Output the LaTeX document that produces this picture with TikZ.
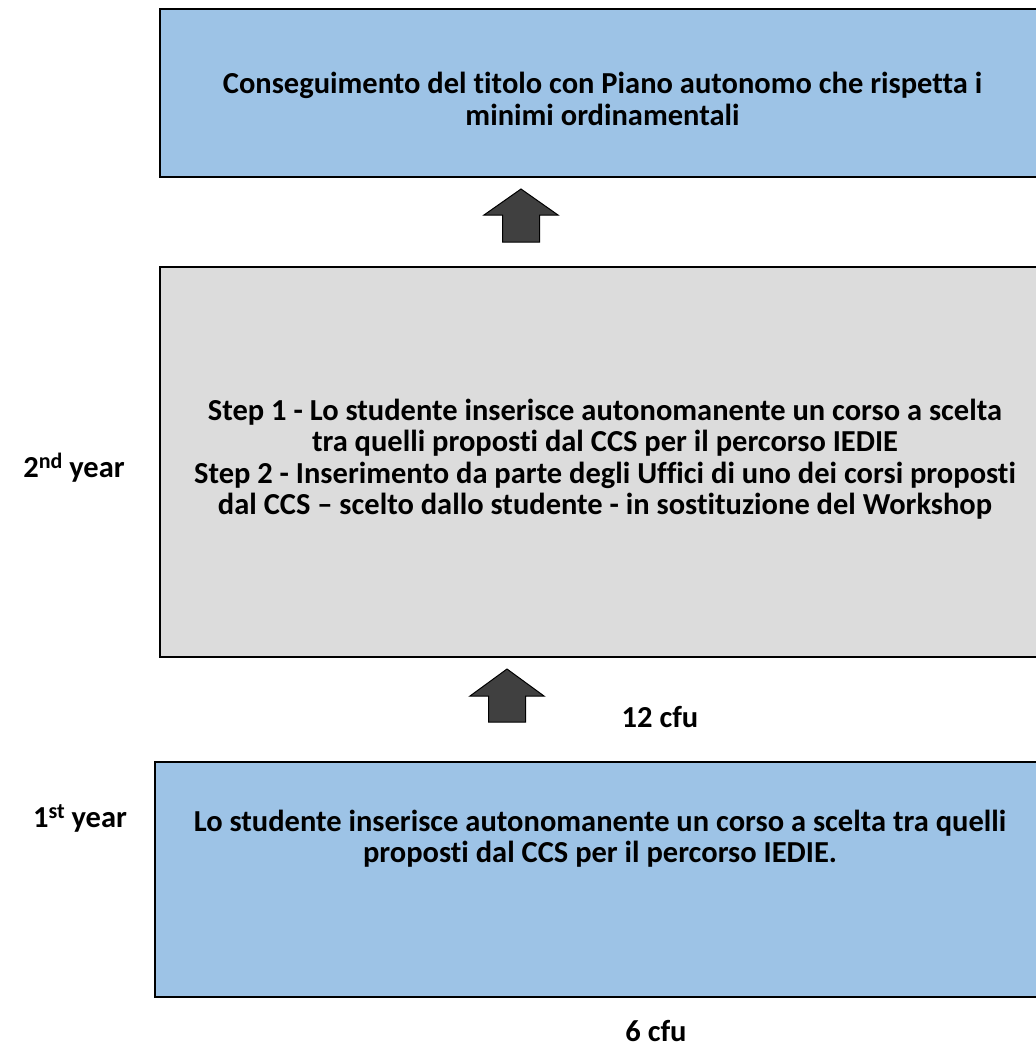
\documentclass[tikz,border=0pt]{standalone}
\usepackage{fontspec}
\setmainfont{Carlito}[Ligatures={NoCommon}]
\usepackage{tikz}
\usetikzlibrary{positioning}

\definecolor{boxblue}{HTML}{9DC3E6}
\definecolor{boxgrey}{HTML}{DCDCDC}
\definecolor{arrowgrey}{HTML}{404040}

\newcommand{\apice}[1]{\raisebox{9pt}{\fontsize{22}{22}\selectfont #1}}

\tikzset{
  every node/.style={font=\fontsize{30.5}{31.5}\selectfont\bfseries},
  bluebox/.style={draw=black, line width=1.5pt, fill=boxblue, rectangle},
  greybox/.style={draw=black, line width=1.5pt, fill=boxgrey, rectangle},
  boxtext/.style={align=center},
  blockarrow/.style={draw=black, line width=1pt, fill=arrowgrey, line join=miter}
}

\begin{document}
\begin{tikzpicture}[x=1pt,y=-1pt]
      \clip (0,0) rectangle (1036,1058);
      \fill[white] (0,0) rectangle (1036,1058);

      % boxes
      \node[bluebox, minimum width=885pt, minimum height=168pt] (titolo) at (602.5,93) {};
      \node[boxtext] (testo3) at ([yshift=-6pt]titolo.center)
        {Conseguimento del titolo con Piano autonomo che rispetta i\\minimi ordinamentali};
      \node[greybox, minimum width=890pt, minimum height=390pt] (anno2) at (605,462) {};
      \node[boxtext] (testo2) at ([yshift=3pt]anno2.center)
        {Step 1 - Lo studente inserisce autonomanente un corso a scelta\\
         tra quelli proposti dal CCS per il percorso IEDIE\\
         Step 2 - Inserimento da parte degli Uffici di uno dei corsi proposti\\
         dal CCS -- scelto dallo studente - in sostituzione del Workshop};
      \node[bluebox, minimum width=890pt, minimum height=235pt] (anno1) at (600,879.5) {};
      \node[boxtext] (testo1) at ([yshift=41pt]anno1.center)
        {Lo studente inserisce autonomanente un corso a scelta tra quelli\\proposti dal CCS per il percorso IEDIE.};

      % labels
      \node (lab2) at (74,468) {2\apice{nd} year};
      \node (lab1) at (80,818) {1\apice{st} year};
      \node (cfu12) at (660,717) {12 cfu};
      \node (cfu6) at (656,1031) {6 cfu};

      % arrows
      \coordinate (tip1) at (521,189);
      \draw[blockarrow] (tip1) -- ++(37,26) -- ++(-18.5,0) -- ++(0,27) -- ++(-37,0)
        -- ++(0,-27) -- ++(-18.5,0) -- cycle;
      \coordinate (tip2) at (507,669);
      \draw[blockarrow] (tip2) -- ++(37,27) -- ++(-18.5,0) -- ++(0,26) -- ++(-37,0)
        -- ++(0,-26) -- ++(-18.5,0) -- cycle;
\end{tikzpicture}
\end{document}
